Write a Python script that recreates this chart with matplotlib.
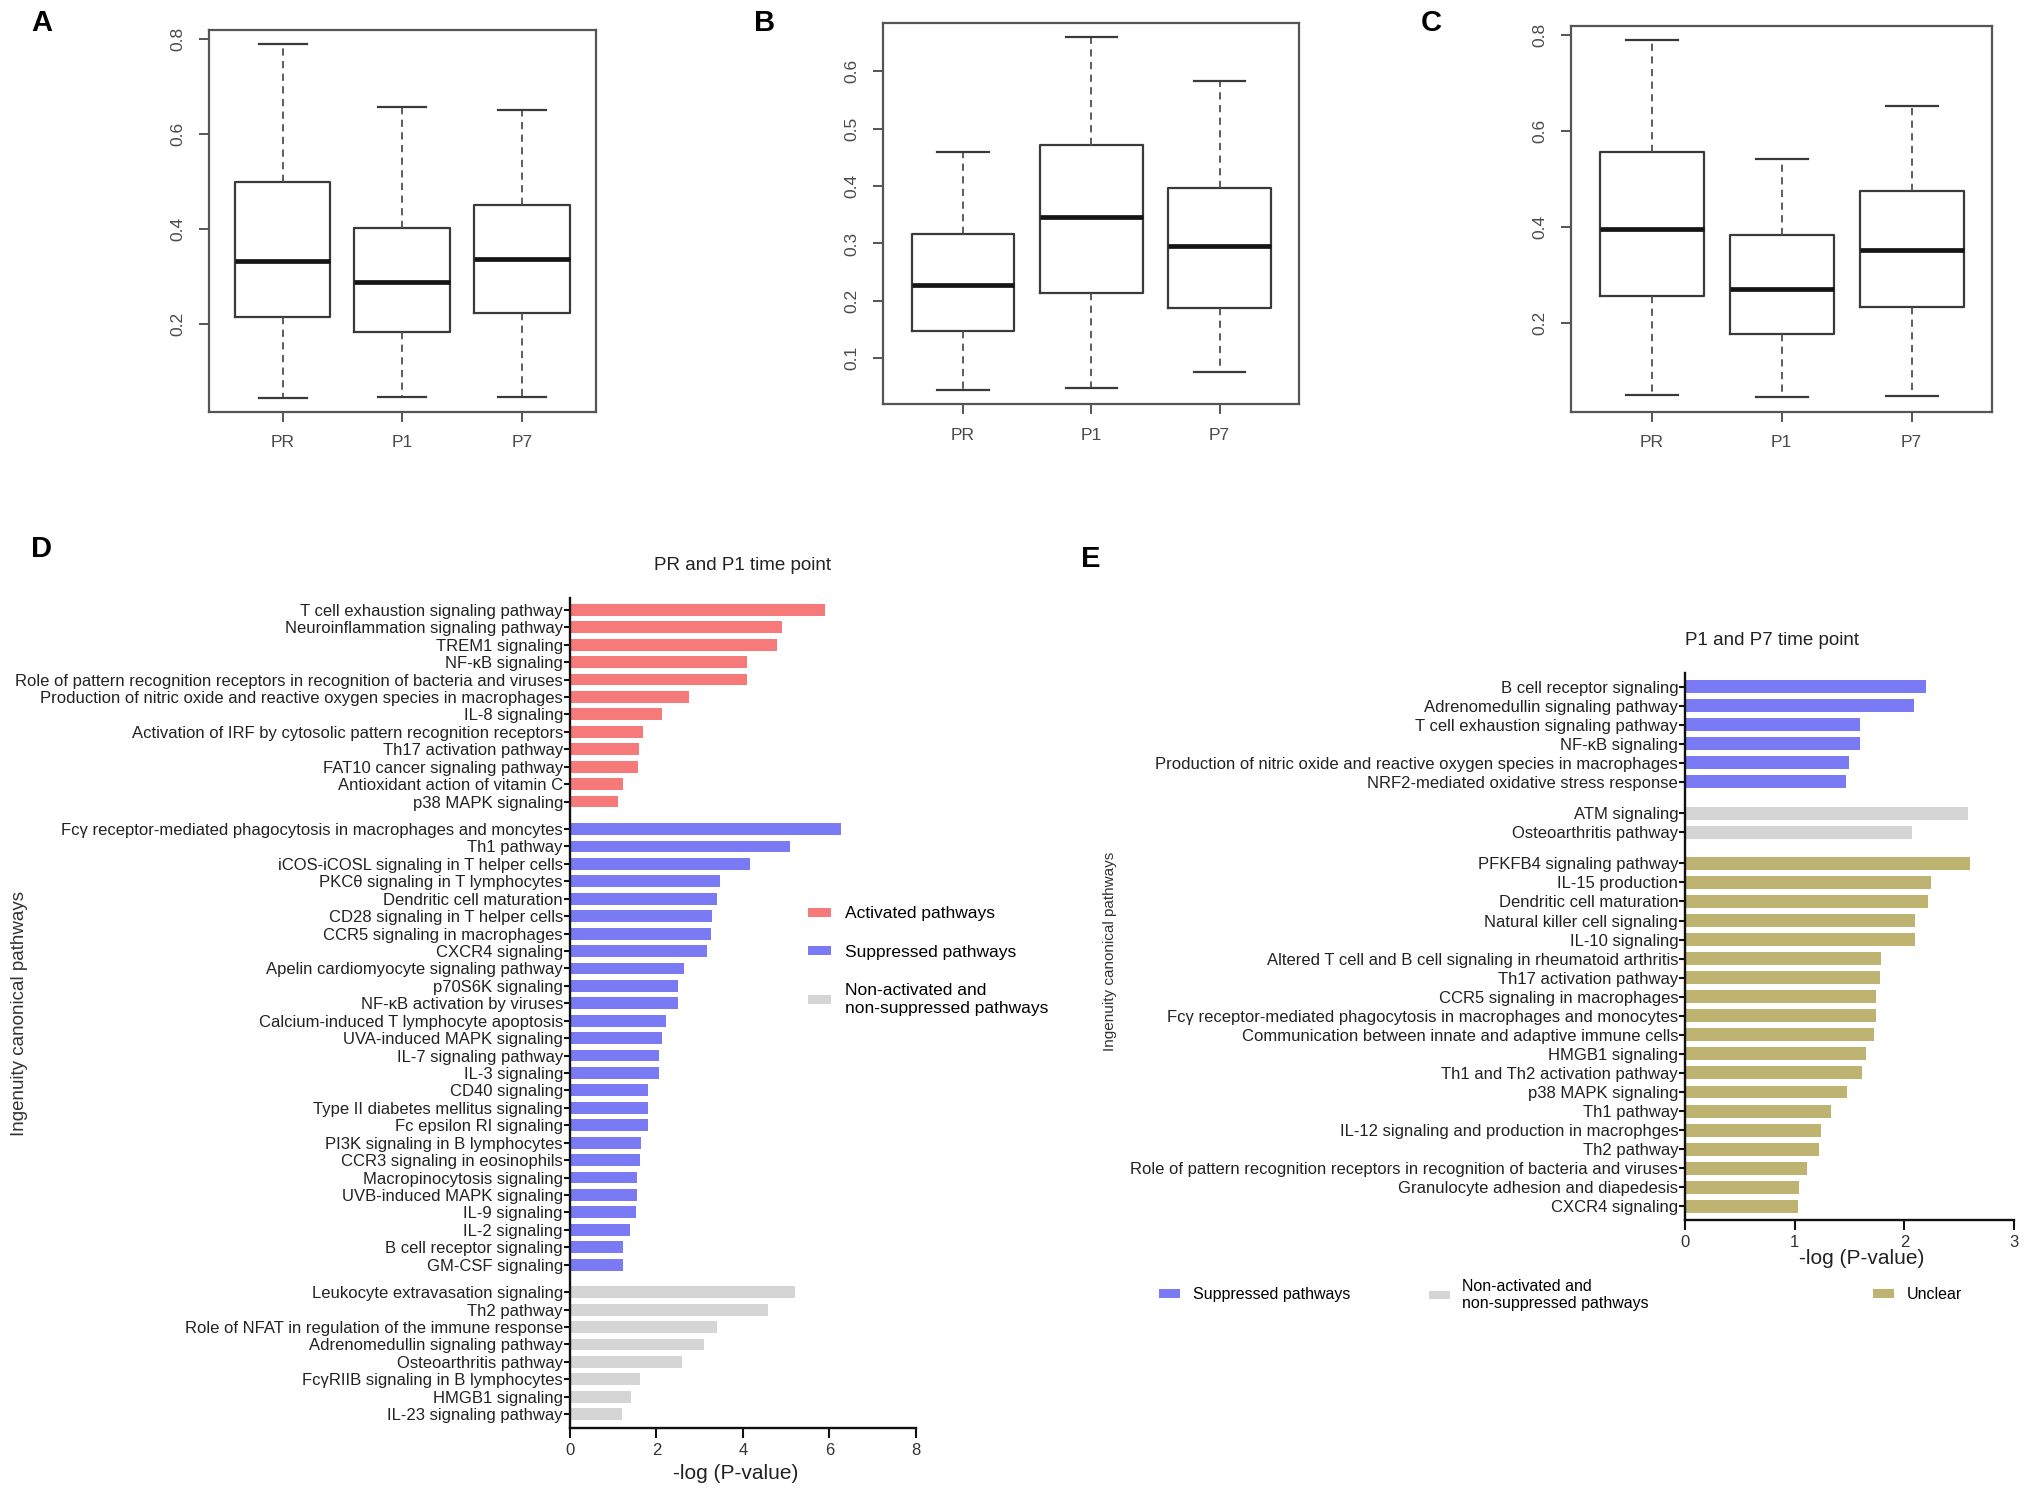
import matplotlib
matplotlib.use('Agg')
import matplotlib.pyplot as plt
from matplotlib.patches import Patch
from matplotlib import font_manager

# ---------------- data ----------------
groups = ['PR', 'P1', 'P7']

a_whislo = [0.044, 0.046, 0.046]
a_q1 = [0.213, 0.182, 0.222]
a_med = [0.333, 0.287, 0.337]
a_q3 = [0.499, 0.401, 0.451]
a_whishi = [0.790, 0.656, 0.650]
a_yticks = [0.2, 0.4, 0.6, 0.8]

b_whislo = [0.045, 0.048, 0.076]
b_q1 = [0.147, 0.214, 0.188]
b_med = [0.228, 0.347, 0.295]
b_q3 = [0.316, 0.472, 0.397]
b_whishi = [0.459, 0.659, 0.583]
b_yticks = [0.1, 0.2, 0.3, 0.4, 0.5, 0.6]

c_whislo = [0.049, 0.044, 0.047]
c_q1 = [0.256, 0.176, 0.233]
c_med = [0.395, 0.271, 0.352]
c_q3 = [0.555, 0.382, 0.475]
c_whishi = [0.789, 0.542, 0.651]
c_yticks = [0.2, 0.4, 0.6, 0.8]

d_act_labels = [
    'T cell exhaustion signaling pathway', 'Neuroinflammation signaling pathway',
    'TREM1 signaling', 'NF-\u03baB signaling',
    'Role of pattern recognition receptors in recognition of bacteria and viruses',
    'Production of nitric oxide and reactive oxygen species in macrophages',
    'IL-8 signaling', 'Activation of IRF by cytosolic pattern recognition receptors',
    'Th17 activation pathway', 'FAT10 cancer signaling pathway',
    'Antioxidant action of vitamin C', 'p38 MAPK signaling']
d_act_vals = [5.90, 4.90, 4.80, 4.09, 4.09, 2.75, 2.12, 1.68, 1.59, 1.58, 1.23, 1.12]

d_sup_labels = [
    'Fc\u03b3 receptor-mediated phagocytosis in macrophages and moncytes', 'Th1 pathway',
    'iCOS-iCOSL signaling in T helper cells', 'PKC\u03b8 signaling in T lymphocytes',
    'Dendritic cell maturation', 'CD28 signaling in T helper cells',
    'CCR5 signaling in macrophages', 'CXCR4 signaling',
    'Apelin cardiomyocyte signaling pathway', 'p70S6K signaling',
    'NF-\u03baB activation by viruses', 'Calcium-induced T lymphocyte apoptosis',
    'UVA-induced MAPK signaling', 'IL-7 signaling pathway', 'IL-3 signaling',
    'CD40 signaling', 'Type II diabetes mellitus signaling', 'Fc epsilon RI signaling',
    'PI3K signaling in B lymphocytes', 'CCR3 signaling in eosinophils',
    'Macropinocytosis signaling', 'UVB-induced MAPK signaling', 'IL-9 signaling',
    'IL-2 signaling', 'B cell receptor signaling', 'GM-CSF signaling']
d_sup_vals = [6.27, 5.10, 4.17, 3.48, 3.40, 3.29, 3.26, 3.18, 2.64, 2.51, 2.51, 2.23,
              2.12, 2.06, 2.06, 1.81, 1.81, 1.81, 1.65, 1.61, 1.56, 1.56, 1.53, 1.40,
              1.23, 1.23]

d_non_labels = [
    'Leukocyte extravasation signaling', 'Th2 pathway',
    'Role of NFAT in regulation of the immune response', 'Adrenomedullin signaling pathway',
    'Osteoarthritis pathway', 'Fc\u03b3RIIB signaling in B lymphocytes', 'HMGB1 signaling',
    'IL-23 signaling pathway']
d_non_vals = [5.20, 4.59, 3.40, 3.09, 2.59, 1.61, 1.42, 1.20]

e_sup_labels = [
    'B cell receptor signaling', 'Adrenomedullin signaling pathway',
    'T cell exhaustion signaling pathway', 'NF-\u03baB signaling',
    'Production of nitric oxide and reactive oxygen species in macrophages',
    'NRF2-mediated oxidative stress response']
e_sup_vals = [2.20, 2.09, 1.59, 1.59, 1.49, 1.47]

e_non_labels = ['ATM signaling', 'Osteoarthritis pathway']
e_non_vals = [2.58, 2.07]

e_unc_labels = [
    'PFKFB4 signaling pathway', 'IL-15 production', 'Dendritic cell maturation',
    'Natural killer cell signaling', 'IL-10 signaling',
    'Altered T cell and B cell signaling in rheumatoid arthritis', 'Th17 activation pathway',
    'CCR5 signaling in macrophages',
    'Fc\u03b3 receptor-mediated phagocytosis in macrophages and monocytes',
    'Communication between innate and adaptive immune cells', 'HMGB1 signaling',
    'Th1 and Th2 activation pathway', 'p38 MAPK signaling', 'Th1 pathway',
    'IL-12 signaling and production in macrophges', 'Th2 pathway',
    'Role of pattern recognition receptors in recognition of bacteria and viruses',
    'Granulocyte adhesion and diapedesis', 'CXCR4 signaling']
e_unc_vals = [2.60, 2.24, 2.21, 2.10, 2.10, 1.79, 1.78, 1.74, 1.74, 1.72, 1.65, 1.61,
              1.48, 1.33, 1.24, 1.22, 1.11, 1.04, 1.03]

RED = '#F77A7A'
BLUE = '#7A7AF5'
GRAY = '#D5D5D5'
TAN = '#BFB372'

# ---------------- fonts ----------------
names = {f.name for f in font_manager.fontManager.ttflist}
NARROW = ['Liberation Sans Narrow', 'Liberation Sans', 'DejaVu Sans'] \
    if 'Liberation Sans Narrow' in names else ['Liberation Sans', 'DejaVu Sans']
plt.rcParams['font.family'] = ['Liberation Sans', 'DejaVu Sans']

fig = plt.figure(figsize=(20.31, 14.98), dpi=100)
DW, DH = 1568.0, 1157.0


def rect(x0, y0, x1, y1):
    return [x0 / DW, 1 - y1 / DH, (x1 - x0) / DW, (y1 - y0) / DH]


def box_panel(r, lo, q1, med, q3, hi, yticks):
    ax = fig.add_axes(r)
    stats = [dict(whislo=lo[i], q1=q1[i], med=med[i], q3=q3[i], whishi=hi[i], fliers=[])
             for i in range(len(groups))]
    ax.bxp(stats, positions=[1, 2, 3], widths=0.8, showfliers=False,
           boxprops=dict(color='#3a3a3a', lw=1.6),
           medianprops=dict(color='#151515', lw=3.4, solid_capstyle='butt'),
           whiskerprops=dict(color='#505050', lw=1.3, ls=(0, (4, 3))),
           capprops=dict(color='#3a3a3a', lw=1.6), capwidths=0.4)
    rng = max(hi) - min(lo)
    ax.set_ylim(min(lo) - 0.04 * rng, max(hi) + 0.04 * rng)
    ax.set_xlim(0.5 - 0.12, 3.5 + 0.12)
    ax.set_yticks(yticks)
    ax.set_yticklabels([f'{t:g}' for t in yticks], rotation=90, va='center')
    ax.set_xticks([1, 2, 3])
    ax.set_xticklabels(groups)
    for s in ax.spines.values():
        s.set_color('#555555')
        s.set_linewidth(1.6)
    ax.tick_params(axis='both', direction='out', length=7, width=1.4, color='#555555',
                   labelcolor='#4a4a4a', labelsize=12.5)
    ax.tick_params(axis='y', pad=10)
    ax.tick_params(axis='x', pad=10)
    return ax


box_panel(rect(161, 23, 460, 318), a_whislo, a_q1, a_med, a_q3, a_whishi, a_yticks)
box_panel(rect(682, 18, 1003, 312), b_whislo, b_q1, b_med, b_q3, b_whishi, b_yticks)
box_panel(rect(1213, 20, 1538, 318), c_whislo, c_q1, c_med, c_q3, c_whishi, c_yticks)


def bar_panel(r, blocks, gap, xmax, xticks, top_pad, bot_pad, lsize):
    ax = fig.add_axes(r)
    pos, vals, cols, labs = [], [], [], []
    p = 0.0
    for labels, values, color in blocks:
        for lab, v in zip(labels, values):
            pos.append(p)
            vals.append(v)
            cols.append(color)
            labs.append(lab)
            p += 1
        p += gap
    ax.barh(pos, vals, height=0.68, color=cols, edgecolor='none')
    ax.set_yticks(pos)
    ax.set_yticklabels(labs, family=NARROW, fontsize=lsize, color='#222222')
    ax.set_ylim(pos[-1] + bot_pad, pos[0] - top_pad)
    ax.set_xlim(0, xmax)
    ax.set_xticks(xticks)
    ax.set_xticklabels([str(t) for t in xticks], family=NARROW)
    for s in ['top', 'right']:
        ax.spines[s].set_visible(False)
    for s in ['left', 'bottom']:
        ax.spines[s].set_color('#111111')
        ax.spines[s].set_linewidth(1.7)
    ax.tick_params(axis='y', length=4, width=1.5, pad=1, color='#111111')
    ax.tick_params(axis='x', length=7, width=1.5, pad=4, color='#111111',
                   labelsize=12, labelcolor='#333333')
    return ax


bar_panel(rect(440, 462, 707, 1103),
          [(d_act_labels, d_act_vals, RED), (d_sup_labels, d_sup_vals, BLUE),
           (d_non_labels, d_non_vals, GRAY)],
          0.58, 8, [0, 2, 4, 6, 8], 0.67, 0.8, 12)

bar_panel(rect(1301, 520, 1555, 942),
          [(e_sup_labels, e_sup_vals, BLUE), (e_non_labels, e_non_vals, GRAY),
           (e_unc_labels, e_unc_vals, TAN)],
          0.64, 3, [0, 1, 2, 3], 0.7, 0.7, 12)

# ---------------- text ----------------
def ftext(x, y, s, **kw):
    fig.text(x / DW, 1 - y / DH, s, **kw)

for lab, x, y in [('A', 32, 18), ('B', 590, 18), ('C', 1105, 18), ('D', 32, 424),
                  ('E', 842, 432)]:
    ftext(x, y, lab, fontsize=21, fontweight='bold', ha='center', va='center')

ftext(573, 437, 'PR and P1 time point', fontsize=13.5, ha='center', va='center',
      family=NARROW, color='#222222')
ftext(1368, 495, 'P1 and P7 time point', fontsize=13.5, ha='center', va='center',
      family=NARROW, color='#222222')
ftext(568, 1138, '-log (P-value)', fontsize=15, ha='center', va='center', family=NARROW,
      color='#222222')
ftext(1437, 972, '-log (P-value)', fontsize=15, ha='center', va='center', family=NARROW,
      color='#222222')
ftext(15, 783, 'Ingenuity canonical pathways', fontsize=13.5, rotation=90, ha='center',
      va='center', color='#333333')
ftext(857, 735, 'Ingenuity canonical pathways', fontsize=11, rotation=90, ha='center',
      va='center', color='#333333')

# ---------------- legends ----------------
h_act = Patch(facecolor=RED, edgecolor='none')
h_sup = Patch(facecolor=BLUE, edgecolor='none')
h_non = Patch(facecolor=GRAY, edgecolor='none')
h_unc = Patch(facecolor=TAN, edgecolor='none')

leg = fig.legend([h_act, h_sup, h_non],
                 ['Activated pathways', 'Suppressed pathways',
                  'Non-activated and\nnon-suppressed pathways'],
                 loc='upper left', bbox_to_anchor=(612 / DW, 1 - 688 / DH), frameon=False,
                 handlelength=1.3, handleheight=0.45, handletextpad=0.8, labelspacing=1.35,
                 prop=dict(family=NARROW, size=12.5))

for handle, text, x in [(h_sup, 'Suppressed pathways', 884),
                        (h_non, 'Non-activated and\nnon-suppressed pathways', 1092),
                        (h_unc, 'Unclear', 1435)]:
    fig.legend([handle], [text], loc='center left', bbox_to_anchor=(x / DW, 1 - 1000 / DH),
               frameon=False, handlelength=1.3, handleheight=0.45, handletextpad=0.8,
               prop=dict(family=NARROW, size=11.5))

fig.savefig('out.png', dpi=100, facecolor='white')
